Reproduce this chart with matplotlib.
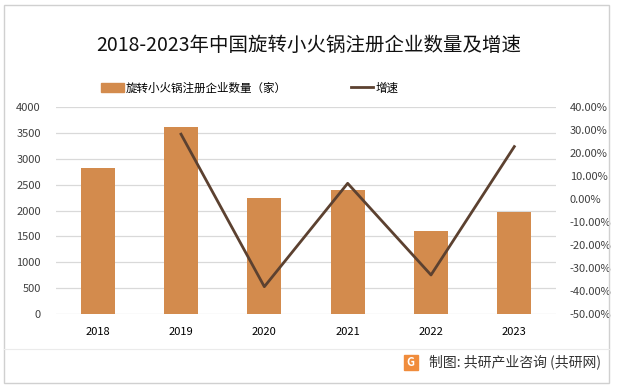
import matplotlib
matplotlib.use("Agg")
import matplotlib.pyplot as plt
from matplotlib.patches import Rectangle
from matplotlib.lines import Line2D
from matplotlib.ticker import FuncFormatter

plt.rcParams['font.family'] = ['Noto Sans CJK SC', 'DejaVu Sans']

years = ['2018', '2019', '2020', '2021', '2022', '2023']
counts = [2820, 3610, 2240, 2400, 1600, 1980]
growth = [None, 28.3, -38.1, 6.9, -33.0, 22.9]

bar_color = '#D38B4D'
line_color = '#5C4130'
grid_color = '#D9D9D9'
text_color = '#404040'

fig = plt.figure(figsize=(6.17, 3.86), dpi=100)
ax = fig.add_axes([0.0908, 0.1865, 0.8103, 0.5355])
ax2 = ax.twinx()

x = list(range(len(years)))
ax.bar(x, counts, width=0.41, color=bar_color, zorder=2)
ax.set_ylim(0, 4000)
ax.set_yticks(range(0, 4001, 500))
ax.set_xlim(-0.5, len(years) - 0.5)
ax.set_xticks(x)
ax.set_xticklabels(years)
ax.yaxis.grid(True, color=grid_color, linewidth=0.9, zorder=0)
ax.set_axisbelow(True)

gx = [i for i, g in zip(x, growth) if g is not None]
gy = [g for g in growth if g is not None]
ax2.plot(gx, gy, color=line_color, linewidth=2.0, zorder=3)
ax2.set_ylim(-50, 40)
ax2.set_yticks(range(-50, 41, 10))
ax2.yaxis.set_major_formatter(FuncFormatter(lambda v, p: '%.2f%%' % v))

for a in (ax, ax2):
    for s in a.spines.values():
        s.set_visible(False)
    a.tick_params(length=0, labelsize=8, colors=text_color)
ax.tick_params(axis='x', pad=9, labelcolor='black')
ax.tick_params(axis='y', pad=11)
ax2.tick_params(axis='y', pad=10)

fig.text(0.5, 0.883, '2018-2023年中国旋转小火锅注册企业数量及增速',
         ha='center', va='center', fontsize=14, color='#111111')

# legend
handles = [Rectangle((0, 0), 1, 1, color=bar_color),
           Line2D([0], [0], color=line_color, linewidth=2.0)]
fig.legend(handles, ['旋转小火锅注册企业数量（家）', '增速'],
           loc='center', bbox_to_anchor=(0.405, 0.772), ncol=2, frameon=False,
           fontsize=8.3, handlelength=1.95, handletextpad=0.2, columnspacing=5.5,
           labelcolor='black')

# frame and footer
fig.patches.append(Rectangle((4 / 617, 3 / 386), 605 / 617, 378 / 386,
                             transform=fig.transFigure, fill=False,
                             edgecolor='#D0D0D0', linewidth=1.0))
fig.lines.append(Line2D([4 / 617, 609 / 617], [1 - 349 / 386, 1 - 349 / 386],
                        transform=fig.transFigure, color='#EBEBEB', linewidth=0.8))
fig.patches.append(Rectangle((404 / 617, 1 - 370 / 386), 14 / 617, 15 / 386,
                             transform=fig.transFigure, color='#F08C3C'))
fig.text(410.5 / 617, 1 - 362.5 / 386, 'G', ha='center', va='center',
         fontsize=8, color='white', fontweight='bold')
fig.text(429 / 617, 1 - 362 / 386, '制图: 共研产业咨询 (共研网)', ha='left',
         va='center', fontsize=10, color='#333333')

fig.savefig('out.png', dpi=100)
